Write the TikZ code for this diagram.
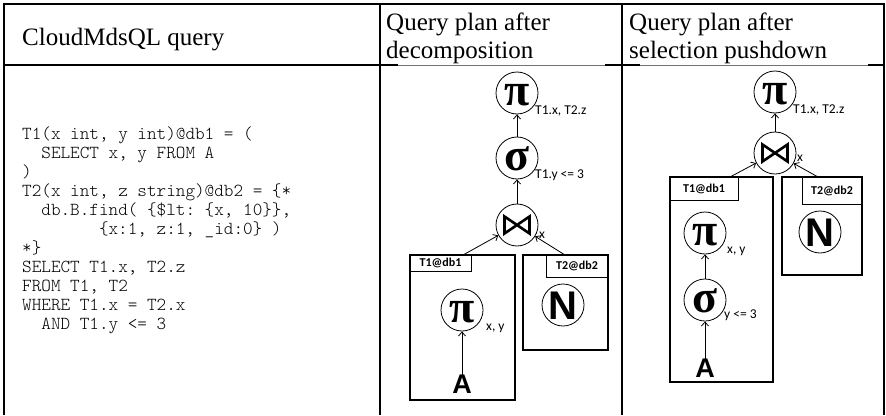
\documentclass[tikz,border=0pt]{standalone}
\usepackage{fontspec}
\setmainfont{Liberation Serif}
\setmonofont{Latin Modern Mono Light}
\newfontfamily\carl{Carlito}
\newfontfamily\arialf{Liberation Sans}
\usetikzlibrary{arrows.meta}
\tikzset{
  frame/.style={line width=2.2pt},
  thinrule/.style={line width=1pt, black!55},
  op/.style={circle, draw, line width=0.8pt, minimum size=42pt, inner sep=0pt},
  lbl/.style={font=\carl\fontsize{13.5}{13.5}\selectfont, anchor=base west, inner sep=0pt},
  dbbox/.style={draw, line width=1.8pt, inner sep=0pt},
  tabbox/.style={draw, line width=1pt, inner sep=0pt, font=\carl\bfseries\fontsize{12}{12}\selectfont},
  arr/.style={-{Straight Barb[length=4pt,width=7pt]}, line width=0.8pt},
  code/.style={font=\ttfamily\fontsize{18.3}{18.3}\selectfont, anchor=base west, inner sep=0pt},
  head/.style={font=\fontsize{25}{25}\selectfont, anchor=base west, inner sep=0pt},
  rel/.style={font=\arialf\bfseries\fontsize{27}{27}\selectfont, inner sep=0pt},
  greek/.style={font=\bfseries\fontsize{46}{46}\selectfont},
  nsym/.style={font=\arialf\bfseries\fontsize{40}{40}\selectfont},
}
\newcommand{\bowglyph}[1]{\draw[line width=2.6pt, line join=miter] ([shift={(-12.5pt,8.5pt)}]#1) -- ([shift={(-12.5pt,-8.5pt)}]#1) -- ([shift={(12.5pt,8.5pt)}]#1) -- ([shift={(12.5pt,-8.5pt)}]#1) -- cycle;}
\newcommand{\glyphc}[2]{\makebox[0pt]{\raisebox{#1}[0pt][0pt]{#2}}}
\begin{document}
\begin{tikzpicture}[x=1pt,y=-1pt]
\useasboundingbox (0,0) rectangle (886,415);
% table frame
\draw[frame] (4,415) -- (4,4) -- (884,4) -- (884,415);
\draw[frame] (380,4) -- (380,415);
\draw[frame] (622,4) -- (622,415);
\draw[frame] (4,65) -- (398,65);
\draw[thinrule] (398,65) -- (605,65);
\draw[frame] (605,65) -- (640,65);
\draw[thinrule] (640,65) -- (868,65);
\draw[frame] (868,65) -- (884,65);
% headers
\node[head] (h1) at (22,45) {CloudMdsQL query};
\node[head] (h2a) at (386,30) {Query plan after};
\node[head] (h2b) at (386,58) {decomposition};
\node[head] (h3a) at (629,30) {Query plan after};
\node[head] (h3b) at (629,58) {selection pushdown};
% code
\node[code] (c1) at (22,139) {T1(x int, y int)@db1 = (};
\node[code] (c2) at (41.2,158) {SELECT x, y FROM A};
\node[code] (c3) at (22,177) {)};
\node[code] (c4) at (22,196) {T2(x int, z string)@db2 = \{*};
\node[code] (c5) at (41.2,215) {db.B.find( \{\$lt: \{x, 10\}\},};
\node[code] (c6) at (98.8,234) {\{x:1, z:1, \_id:0\} )};
\node[code] (c7) at (22,253) {*\}};
\node[code] (c8) at (22,272) {SELECT T1.x, T2.z};
\node[code] (c9) at (22,291) {FROM T1, T2};
\node[code] (c10) at (22,310) {WHERE T1.x = T2.x};
\node[code] (c11) at (41.2,329) {AND T1.y <= 3};
% ---- column 2: after decomposition
\node[op, greek] (p1) at (517,93) {\glyphc{-0.27em}{π}};
\node[lbl] (p1l) at (535,114) {T1.x, T2.z};
\node[op, greek] (s1) at (517,158) {\glyphc{-0.27em}{σ}};
\node[lbl] (s1l) at (535,178) {T1.y <= 3};
\node[op] (j1) at (517,225) {};
\bowglyph{j1.center}
\node[lbl] (j1l) at (539,238) {x};
\draw[arr] (s1) -- (p1);
\draw[arr] (j1) -- (s1);
% left box
\node[dbbox, minimum width=105pt, minimum height=145pt] (bl1) at (462.5,327.5) {};
\node[tabbox, minimum width=61pt, minimum height=16pt] (tl1) at (440.5,263) {T1@db1};
\node[op, greek] (p2) at (462,310) {\glyphc{-0.27em}{π}};
\node[lbl] (p2l) at (486,330) {x, y};
\node[rel] (a1) at (462,384) {A};
\draw[arr] (a1) -- (p2);
% right box
\node[dbbox, minimum width=85pt, minimum height=95pt] (br1) at (565.5,302.5) {};
\node[tabbox, minimum width=62pt, minimum height=22pt] (tr1) at (577,266) {T2@db2};
\node[op, nsym] (n1) at (563,305) {\glyphc{-0.36em}{N}};
\coordinate (e1) at (463,255);
\coordinate (e2) at (565,255);
\draw[arr] (e1) -- (j1);
\draw[arr] (e2) -- (j1);
% ---- column 3: after selection pushdown
\node[op, greek] (p3) at (775,92) {\glyphc{-0.27em}{π}};
\node[lbl] (p3l) at (793,113) {T1.x, T2.z};
\node[op] (j2) at (775,153) {};
\bowglyph{j2.center}
\node[lbl] (j2l) at (797,161) {x};
\draw[arr] (j2) -- (p3);
% left box
\node[dbbox, minimum width=103pt, minimum height=205pt] (bl2) at (721.5,279.5) {};
\node[tabbox, minimum width=68pt, minimum height=23pt] (tl2) at (704,188.5) {T1@db1};
\node[op, greek] (p4) at (705,233) {\glyphc{-0.27em}{π}};
\node[lbl] (p4l) at (727,253) {x, y};
\node[op, greek] (s2) at (705,300) {\glyphc{-0.27em}{σ}};
\node[lbl] (s2l) at (724,318) {y <= 3};
\node[rel] (a2) at (705,368) {A};
\draw[arr] (s2) -- (p4);
\draw[arr] (a2) -- (s2);
% right box
\node[dbbox, minimum width=80pt, minimum height=98pt] (br2) at (822,226) {};
\node[tabbox, minimum width=60pt, minimum height=27pt] (tr2) at (832,190.5) {T2@db2};
\node[op, nsym] (n2) at (820,232) {\glyphc{-0.36em}{N}};
\coordinate (e3) at (730,177);
\coordinate (e4) at (818,177);
\draw[arr] (e3) -- (j2);
\draw[arr] (e4) -- (j2);
\end{tikzpicture}
\end{document}
